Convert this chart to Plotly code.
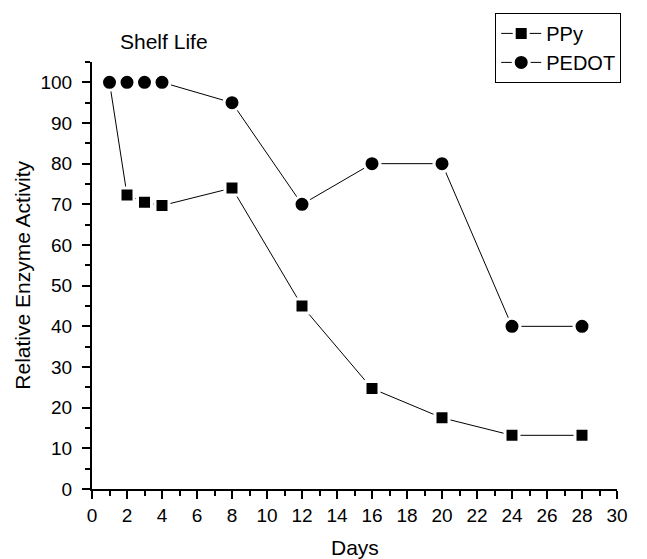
import plotly.graph_objects as go

# Shelf-life measurements of the immobilised enzyme
days = [1, 2, 3, 4, 8, 12, 16, 20, 24, 28]
ppy_activity = [100, 72.3, 70.5, 69.7, 74, 45, 24.7, 17.5, 13.2, 13.2]
pedot_activity = [100, 100, 100, 100, 95, 70, 80, 80, 40, 40]

x_ticks = list(range(0, 31, 2))
y_ticks = list(range(0, 101, 10))

FONT = "Liberation Sans, Arial, sans-serif"

fig = go.Figure()
fig.add_trace(go.Scatter(
    x=days, y=ppy_activity, name="PPy", mode="lines+markers",
    line=dict(color="black", width=1),
    marker=dict(symbol="square", size=14, color="black",
                line=dict(color="white", width=3)),
))
fig.add_trace(go.Scatter(
    x=days, y=pedot_activity, name="PEDOT", mode="lines+markers",
    line=dict(color="black", width=1),
    marker=dict(symbol="circle", size=16, color="black",
                line=dict(color="white", width=3)),
))

axis_common = dict(
    showline=True, linecolor="black", linewidth=2,
    ticks="outside", ticklen=8, tickwidth=2, tickcolor="black",
    showgrid=False, zeroline=False, mirror=False, automargin=False,
    tickfont=dict(family=FONT, size=19, color="black"),
)

fig.update_xaxes(
    range=[0, 30], tickvals=x_ticks, ticklabelstandoff=0,
    minor=dict(dtick=1, ticks="outside", ticklen=5, tickwidth=2, tickcolor="black"),
    **axis_common,
)
fig.update_yaxes(
    range=[0, 105], tickvals=y_ticks, ticklabelstandoff=6,
    minor=dict(tick0=0, dtick=5, ticks="outside", ticklen=5, tickwidth=2, tickcolor="black"),
    **axis_common,
)

title_font = dict(family=FONT, size=21, color="black")

fig.update_layout(
    width=647, height=559,
    margin=dict(l=92, r=30, t=62, b=70),
    paper_bgcolor="white", plot_bgcolor="white",
    font=dict(family=FONT, color="black"),
    showlegend=True,
    legend=dict(
        x=0.768, y=1.115, xanchor="left", yanchor="top",
        bordercolor="black", borderwidth=1, bgcolor="white",
        font=dict(family=FONT, size=20, color="black"),
        tracegroupgap=0, itemwidth=40,
    ),
    annotations=[
        dict(text="Shelf Life", xref="paper", yref="paper",
             x=0.137, y=1.049, xanchor="center", yanchor="middle",
             showarrow=False, font=title_font),
        dict(text="Days", xref="paper", yref="paper",
             x=0.501, y=-0.138, xanchor="center", yanchor="middle",
             showarrow=False, font=title_font),
        dict(text="Relative Enzyme Activity", xref="paper", yref="paper",
             x=-0.133, y=0.5, xanchor="center", yanchor="middle",
             textangle=-90, showarrow=False, font=title_font),
    ],
)

fig.write_html("out.html")
